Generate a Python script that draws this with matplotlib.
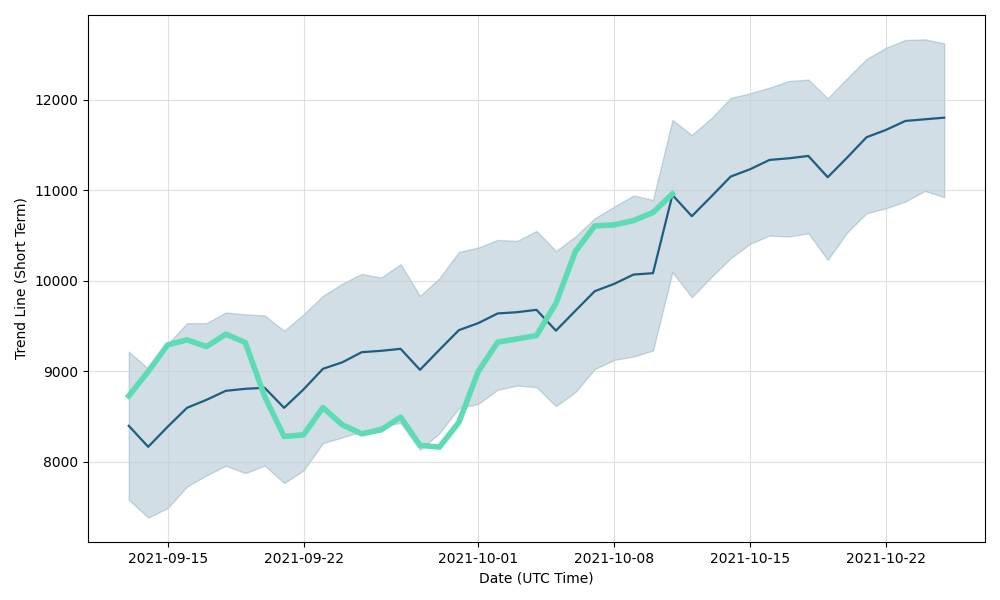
import numpy as np
import pandas as pd
import matplotlib
matplotlib.use("Agg")
import matplotlib.pyplot as plt
import matplotlib.dates as mdates

# Daily dates, 2021-09-13 .. 2021-10-25
dates = pd.date_range("2021-09-13", "2021-10-25", freq="D")

# Trend line (mean)
trend = [8398, 8166, 8387, 8597, 8685, 8785, 8807, 8818, 8597, 8800,
         9028, 9100, 9212, 9227, 9249, 9017, 9238, 9455, 9533, 9640,
         9654, 9680, 9450, 9669, 9886, 9967, 10070, 10085, 10950, 10715,
         10932, 11153, 11234, 11337, 11355, 11381, 11146, 11363, 11588, 11669,
         11768, 11786, 11804]

# Upper / lower band
upper = [9218, 9030, 9300, 9533, 9533, 9651, 9630, 9618, 9448, 9630,
         9834, 9970, 10077, 10037, 10184, 9834, 10030, 10320, 10368, 10453,
         10442, 10552, 10331, 10490, 10692, 10821, 10944, 10895, 11779, 11613,
         11798, 12022, 12074, 12136, 12210, 12225, 12018, 12240, 12453, 12578,
         12663, 12670, 12626]
lower = [7580, 7384, 7488, 7727, 7850, 7956, 7875, 7959, 7765, 7904,
         8207, 8270, 8336, 8392, 8429, 8133, 8317, 8593, 8641, 8796,
         8843, 8825, 8615, 8770, 9025, 9127, 9164, 9230, 10096, 9820,
         10041, 10250, 10409, 10501, 10490, 10527, 10232, 10534, 10748, 10803,
         10877, 10994, 10925]

# Actual price (green line), 2021-09-13 .. 2021-10-11
price = [8729, 8998, 9293, 9348, 9274, 9411, 9319, 8722, 8281, 8298,
         8600, 8409, 8309, 8354, 8494, 8182, 8163, 8436, 8999, 9323,
         9359, 9396, 9751, 10324, 10608, 10619, 10667, 10756, 10961]

fig, ax = plt.subplots(figsize=(10, 6), dpi=100)

ax.fill_between(dates, lower, upper, color='#1d5e7f', alpha=0.2, linewidth=1)
ax.plot(dates, trend, color='#1d5e7f', lw=1.6)
ax.plot(dates[:len(price)], price, color='#5ddbb4', lw=4)

ax.set_ylim(7116, 12939)
ax.xaxis.set_major_locator(mdates.DayLocator(bymonthday=[1, 8, 15, 22]))
ax.xaxis.set_major_formatter(mdates.DateFormatter("%Y-%m-%d"))
ax.set_yticks([8000, 9000, 10000, 11000, 12000])

ax.set_xlabel("Date (UTC Time)")
ax.set_ylabel("Trend Line (Short Term)")
ax.grid(True, color='#cccccc', alpha=0.6)

plt.subplots_adjust(left=0.088, right=0.985, top=0.975, bottom=0.097)
fig.savefig("out.png", dpi=100)
